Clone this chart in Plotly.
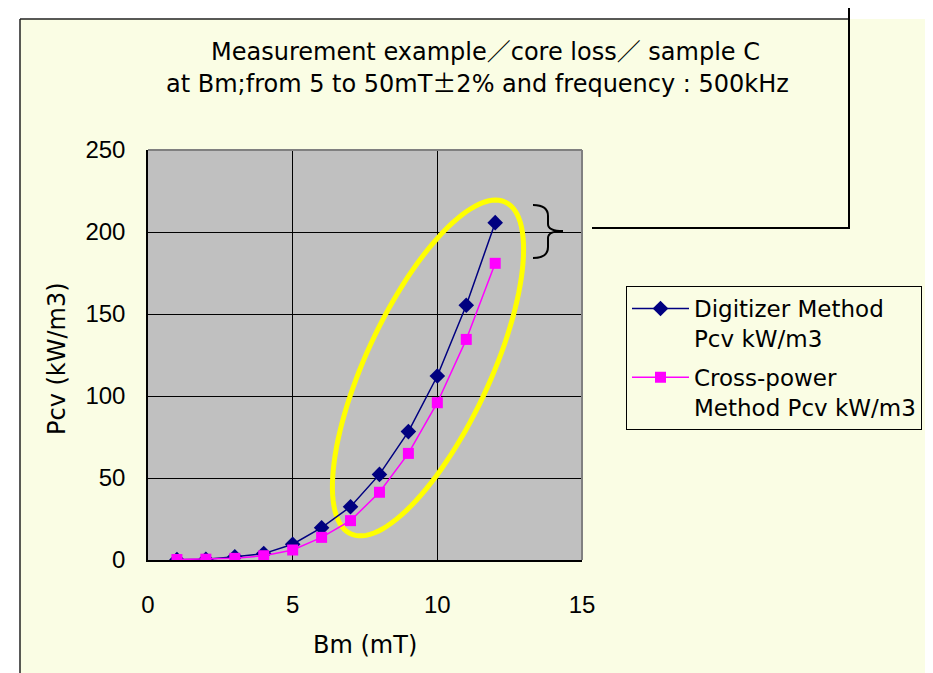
import numpy as np
import plotly.graph_objects as go

# ---- data ----
bm = [1, 2, 3, 4, 5, 6, 7, 8, 9, 10, 11, 12]
digitizer = [0.2, 0.4, 2.0, 3.9, 9.6, 19.7, 32.5, 52.2, 78.3, 112.2, 155.3, 205.7]
cross_power = [0.3, 0.5, 1.0, 2.6, 6.1, 13.8, 24.0, 41.3, 65.0, 95.9, 134.5, 180.9]
x_ticks = [0, 5, 10, 15]
y_ticks = [0, 50, 100, 150, 200, 250]
CJK = "font-family:'Noto Sans CJK JP'"
title_lines = [f"Measurement example<span style=\"{CJK}\">／</span>core loss<span style=\"{CJK}\">／</span> sample C",
               f"at Bm;from 5 to 50mT<span style=\"{CJK}\">±</span>2% and frequency : 500kHz"]
x_title = "Bm (mT)"
y_title = "Pcv (kW/m3)"
names = ["Digitizer Method<br>Pcv kW/m3", "Cross-power<br>Method Pcv kW/m3"]

FONT = "DejaVu Sans, Noto Sans CJK JP"
NUMFONT = "Liberation Sans, Arial"
W, H = 933, 673
OFF = 8  # page offset of the figure (body margin)
# plot area in page pixels
PL, PR, PT, PB = 148, 582, 150, 560
XMAX, YMAX = 15, 250


def pu(px):
    return (px - PL) / (PR - PL)


def pv(py):
    return (PB - py) / (PB - PT)


def dx(px):
    return (px - PL) / (PR - PL) * XMAX


def dy(py):
    return (PB - py) / (PB - PT) * YMAX


fig = go.Figure()
fig.add_trace(go.Scatter(x=bm, y=digitizer, name=names[0], mode="lines+markers",
                         legendgroup="a",
                         line=dict(color="#000080", width=1.5),
                         marker=dict(symbol="diamond", size=12, color="#000080")))
fig.add_trace(go.Scatter(x=bm, y=cross_power, name=names[1], mode="lines+markers",
                         legendgroup="b",
                         line=dict(color="#FF00FF", width=1.5),
                         marker=dict(symbol="square", size=11, color="#FF00FF")))

shapes = []
# white outside the chart frame
shapes.append(dict(type="rect", xref="paper", yref="paper", x0=pu(-20), x1=pu(W + 20),
                   y0=pv(-20), y1=pv(19), fillcolor="white", line=dict(width=0), layer="above"))
shapes.append(dict(type="rect", xref="paper", yref="paper", x0=pu(-20), x1=pu(20),
                   y0=pv(-20), y1=pv(H + 20), fillcolor="white", line=dict(width=0), layer="above"))
# frame lines
shapes.append(dict(type="line", xref="paper", yref="paper", x0=pu(20), x1=pu(849),
                   y0=pv(19), y1=pv(19), line=dict(color="#222", width=1.5)))
shapes.append(dict(type="line", xref="paper", yref="paper", x0=pu(20), x1=pu(20),
                   y0=pv(19), y1=pv(H + 20), line=dict(color="#222", width=1.5)))
# connector line
shapes.append(dict(type="path", xref="paper", yref="paper",
                   path=f"M {pu(592)} {pv(228)} L {pu(849)} {pv(228)} L {pu(849)} {pv(-20)}",
                   line=dict(color="black", width=2)))
# top / right plot border (gray)
shapes.append(dict(type="line", xref="paper", yref="paper", x0=0, x1=1, y0=1, y1=1,
                   line=dict(color="#808080", width=2), layer="above"))
shapes.append(dict(type="line", xref="paper", yref="paper", x0=1, x1=1, y0=0, y1=1,
                   line=dict(color="#808080", width=2), layer="above"))
# brace
bp = [(533, 205), (548, 205), (548, 216), (548, 224), (548, 231), (563, 231),
      (548, 231), (548, 238), (548, 247), (548, 258), (533, 258)]
bpp = [(pu(a), pv(b)) for a, b in bp]
path = (f"M {bpp[0][0]} {bpp[0][1]} Q {bpp[1][0]} {bpp[1][1]} {bpp[2][0]} {bpp[2][1]} "
        f"L {bpp[3][0]} {bpp[3][1]} Q {bpp[4][0]} {bpp[4][1]} {bpp[5][0]} {bpp[5][1]} "
        f"Q {bpp[6][0]} {bpp[6][1]} {bpp[7][0]} {bpp[7][1]} L {bpp[8][0]} {bpp[8][1]} "
        f"Q {bpp[9][0]} {bpp[9][1]} {bpp[10][0]} {bpp[10][1]}")
shapes.append(dict(type="path", xref="paper", yref="paper", path=path,
                   line=dict(color="black", width=2)))
# yellow ellipse (highlight)
cx, cy, a, b = 428, 368, 183, 62
ang = np.deg2rad(25)
ux, uy = np.sin(ang), -np.cos(ang)
vx, vy = np.cos(ang), np.sin(ang)
t = np.linspace(0, 2 * np.pi, 120)
ex = cx + a * np.cos(t) * ux + b * np.sin(t) * vx
ey = cy + a * np.cos(t) * uy + b * np.sin(t) * vy
epath = "M " + " L ".join(f"{dx(px):.4f},{dy(py):.4f}" for px, py in zip(ex, ey)) + " Z"
shapes.append(dict(type="path", xref="x", yref="y", path=epath,
                   line=dict(color="#FFFF00", width=5), layer="between"))

annotations = [
    dict(text=title_lines[0], xref="paper", yref="paper", x=pu(485.5), y=pv(49),
         xanchor="center", yanchor="middle",
         showarrow=False, font=dict(size=24, family=FONT, color="black")),
    dict(text=title_lines[1], xref="paper", yref="paper", x=pu(477.5), y=pv(81),
         xanchor="center", yanchor="middle",
         showarrow=False, font=dict(size=24, family=FONT, color="black")),
    dict(text=x_title, xref="paper", yref="paper", x=pu(365), y=pv(645),
         xanchor="center", yanchor="middle",
         showarrow=False, font=dict(size=24, family=FONT, color="black")),
    dict(text=y_title, xref="paper", yref="paper", x=pu(57), y=pv(359), textangle=-90,
         xanchor="center", yanchor="middle",
         showarrow=False, font=dict(size=24, family=FONT, color="black")),
]

fig.update_layout(
    width=W, height=H,
    margin=dict(l=PL - OFF, r=W - (PR - OFF), t=PT - OFF, b=H - (PB - OFF), autoexpand=False),
    paper_bgcolor="#FAFDE4",
    plot_bgcolor="#C0C0C0",
    font=dict(family=FONT, size=23, color="black"),
    shapes=shapes,
    annotations=annotations,
    showlegend=True,
    legend=dict(x=pu(626), y=pv(286), xanchor="left", yanchor="top",
                bgcolor="#FAFDE4", bordercolor="black", borderwidth=1,
                font=dict(size=23, family=FONT, color="black"),
                valign="top", traceorder="grouped", tracegroupgap=6, itemwidth=57),
    xaxis=dict(range=[0, XMAX], tickvals=x_ticks, showgrid=True, gridcolor="black", gridwidth=1,
               showline=True, linecolor="black", linewidth=1.5, ticks="", zeroline=False,
               tickfont=dict(size=24, family=NUMFONT), ticklabelstandoff=22),
    yaxis=dict(range=[0, YMAX], tickvals=y_ticks, showgrid=True, gridcolor="black", gridwidth=1,
               showline=True, linecolor="black", linewidth=1.5, ticks="inside", ticklen=9,
               tickcolor="black", zeroline=False,
               tickfont=dict(size=24, family=NUMFONT), ticklabelstandoff=16),
)

fig.write_html("out.html")
